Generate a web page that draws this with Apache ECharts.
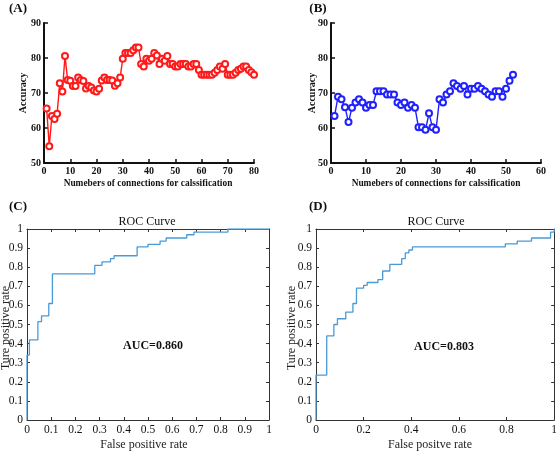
<!DOCTYPE html>
<html><head><meta charset="utf-8">
<script src="https://cdn.jsdelivr.net/npm/echarts@6/dist/echarts.min.js"></script>
<style>html,body{margin:0;padding:0;background:#fff}#c{width:560px;height:454px}</style>
</head><body><div id="c"></div>
<script>
// Panel A: accuracy vs number of connections (1..80)
const accA = [65.6,54.8,63.4,62.6,64.1,72.8,70.4,80.6,73.7,73.5,72,72,74.4,73.7,73.4,71.3,72,71.6,70.7,70.4,
  71.2,73.6,74.4,73.7,73.7,73.6,72.1,72.8,74.4,79.8,81.4,81.4,81.4,82.2,83,83,78.3,77.6,79.8,79.2,
  79.8,81.4,80.7,78.3,79.8,79.2,80.6,78.3,78.3,77.6,77.6,78.3,78.3,78.3,77.6,77.6,78.3,78.3,76.6,75.2,
  75.2,75.2,75.2,75.2,75.8,76.6,77.6,76.9,78.3,75.2,75.2,75.2,75.8,76.6,76.9,77.6,77.6,76.6,75.9,75.2];
// Panel B: accuracy vs number of connections (1..52)
const accB = [63.4,68.9,68.2,65.9,61.7,65.8,67.3,68.2,67.3,65.8,66.6,66.6,70.5,70.5,70.5,69.6,69.6,69.6,67.3,66.6,
  67.3,65.8,66.6,65.8,60.2,60.2,59.5,64.2,60.2,59.5,68.2,67.3,69.6,70.5,72.8,72,71.2,72,69.6,71.2,
  71.2,72,71.2,70.5,69.6,68.9,70.5,70.5,68.9,71.2,73.5,75.2];
// Panel C ROC corners
const fprC = [0,0,0.01,0.01,0.045,0.045,0.06,0.06,0.09,0.09,0.105,0.105,0.28,0.28,0.31,0.31,0.345,0.345,0.36,0.36,0.455,0.455,0.5,0.5,0.55,0.55,0.575,0.575,0.66,0.66,0.69,0.69,0.83,0.83,1];
const tprC = [0,0.34,0.34,0.42,0.42,0.515,0.515,0.545,0.545,0.61,0.61,0.765,0.765,0.81,0.81,0.828,0.828,0.845,0.845,0.86,0.86,0.906,0.906,0.92,0.92,0.937,0.937,0.953,0.953,0.97,0.97,0.984,0.984,1,1];
// Panel D ROC corners
const fprD = [0,0,0.045,0.045,0.075,0.075,0.09,0.09,0.125,0.125,0.155,0.155,0.17,0.17,0.2,0.2,0.215,0.215,0.26,0.26,0.28,0.28,0.31,0.31,0.36,0.36,0.375,0.375,0.39,0.39,0.405,0.405,0.795,0.795,0.845,0.845,0.905,0.905,0.985,0.985,1,1];
const tprD = [0,0.235,0.235,0.44,0.44,0.5,0.5,0.53,0.53,0.565,0.565,0.61,0.61,0.69,0.69,0.705,0.705,0.72,0.72,0.735,0.735,0.78,0.78,0.815,0.815,0.845,0.845,0.875,0.875,0.89,0.89,0.906,0.906,0.922,0.922,0.937,0.937,0.953,0.953,0.984,0.984,1];
const aucC = 'AUC=0.860', aucD = 'AUC=0.803';

const SERIF = '"Liberation Serif","Times New Roman",serif';
const idx = a => a.map((v,i)=>[i+1,v]);
const zip = (a,b) => a.map((v,i)=>[v,b[i]]);

function accX(grid, max){
  return {type:'value', gridIndex:grid, min:0, max:max, interval:10,
    axisLine:{show:true,onZero:false,lineStyle:{color:'#111',width:2}},
    axisTick:{show:true,inside:true,length:4,lineStyle:{color:'#111',width:1.5}},
    axisLabel:{color:'#111',fontFamily:SERIF,fontWeight:'bold',fontSize:10,margin:3},
    splitLine:{show:false}};
}
function accY(grid){
  return {type:'value', gridIndex:grid, min:50, max:90, interval:10,
    axisLine:{show:true,onZero:false,lineStyle:{color:'#111',width:2}},
    axisTick:{show:true,inside:true,length:4,lineStyle:{color:'#111',width:1.5}},
    axisLabel:{color:'#111',fontFamily:SERIF,fontWeight:'bold',fontSize:10,margin:3},
    splitLine:{show:false}};
}
function rocAx(grid, pos, interval, labels){
  return {type:'value', gridIndex:grid, position:pos, min:0, max:1, interval:interval,
    axisLine:{show:true,onZero:false,lineStyle:{color:'#333',width:1}},
    axisTick:{show:true,inside:true,length:3,lineStyle:{color:'#333',width:1}},
    axisLabel:{show:labels,color:'#111',fontFamily:SERIF,fontSize:11.5,margin:4},
    splitLine:{show:false}};
}
function txt(t,x,y,font,opt,fill){
  return Object.assign({type:'text',x:x,y:y,style:{text:t,font:font,fill:fill||'#111',align:'center',verticalAlign:'middle'}},opt||{});
}

const chart = echarts.init(document.getElementById('c'),null,{renderer:'canvas'});
chart.setOption({
  animation:false,
  backgroundColor:'#fff',
  grid:[
    {left:44,top:23,width:210,height:140},
    {left:331,top:23,width:210,height:140},
    {left:27,top:229,width:242,height:191},
    {left:316,top:229,width:242,height:191}
  ],
  xAxis:[accX(0,80),accX(1,60),rocAx(2,'bottom',0.1,true),rocAx(2,'top',0.1,false),rocAx(3,'bottom',0.2,true),rocAx(3,'top',0.2,false)],
  yAxis:[accY(0),accY(1),rocAx(2,'left',0.1,true),rocAx(2,'right',0.1,false),rocAx(3,'left',0.1,true),rocAx(3,'right',0.1,false)],
  series:[
    {type:'line',xAxisIndex:0,yAxisIndex:0,data:idx(accA),symbol:'emptyCircle',symbolSize:6,
      lineStyle:{color:'#ff1a1a',width:1.4},itemStyle:{color:'#ff1a1a',borderWidth:1.1}},
    {type:'line',xAxisIndex:1,yAxisIndex:1,data:idx(accB),symbol:'emptyCircle',symbolSize:6,
      lineStyle:{color:'#2020ff',width:1.4},itemStyle:{color:'#2020ff',borderWidth:1.1}},
    {type:'line',xAxisIndex:2,yAxisIndex:2,data:zip(fprC,tprC),symbol:'none',
      lineStyle:{color:'#4a9ad8',width:1.3}},
    {type:'line',xAxisIndex:4,yAxisIndex:4,data:zip(fprD,tprD),symbol:'none',
      lineStyle:{color:'#4a9ad8',width:1.3}}
  ],
  graphic:[
    txt('(A)',18,9,'bold 13px '+SERIF),
    txt('(B)',318,9,'bold 13px '+SERIF),
    txt('(C)',18,207,'bold 13px '+SERIF),
    txt('(D)',318,207,'bold 13px '+SERIF),
    txt('Numebers of connections for calssification',148,184,'bold 9.4px '+SERIF),
    txt('Numebers of connections for calssification',436,184,'bold 9.4px '+SERIF),
    txt('Accuracy',23,93,'bold 10px '+SERIF,{rotation:Math.PI/2}),
    txt('Accuracy',312,93,'bold 10px '+SERIF,{rotation:Math.PI/2}),
    txt('ROC Curve',147,222,'12px '+SERIF),
    txt('ROC Curve',436,222,'12px '+SERIF),
    txt('False positive rate',144,445,'12px '+SERIF,null,'#222'),
    txt('False positve rate',430,445,'12px '+SERIF,null,'#222'),
    txt('Ture positive rate',6,328,'12px '+SERIF,{rotation:Math.PI/2},'#222'),
    txt('Ture positive rate',292,328,'12px '+SERIF,{rotation:Math.PI/2},'#222'),
    txt(aucC,153,346,'bold 12px '+SERIF),
    txt(aucD,444,347,'bold 12px '+SERIF)
  ]
});
</script></body></html>
